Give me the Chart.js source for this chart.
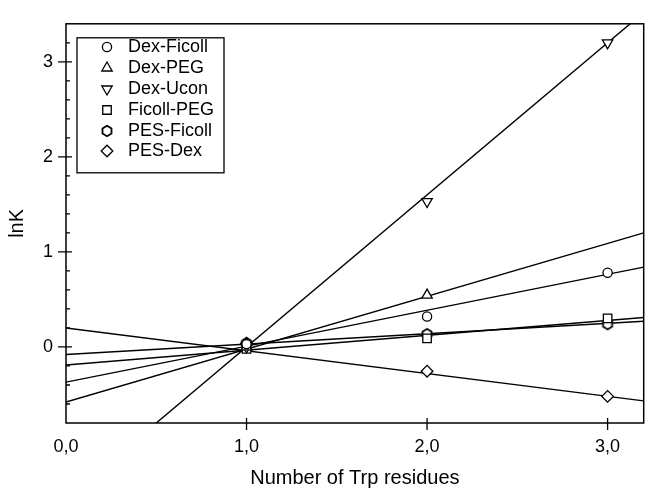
<!DOCTYPE html>
<html><head><meta charset="utf-8">
<script src="https://cdn.jsdelivr.net/npm/chart.js@4.4.1/dist/chart.umd.min.js"></script>
<style>html,body{margin:0;padding:0;background:#fff;}canvas{display:block;}</style>
</head><body>
<canvas id="c" width="651" height="490"></canvas>
<script>
// ---- data ----
const seriesNames = ['Dex-Ficoll', 'Dex-PEG', 'Dex-Ucon', 'Ficoll-PEG', 'PES-Ficoll', 'PES-Dex'];
const xValues = [1, 2, 3];
const dexFicoll = [0.03, 0.32, 0.78];
const dexPEG = [0.0, 0.545];
const dexUcon = [0.0, 1.53, 3.2];
const ficollPEG = [-0.02, 0.09, 0.30];
const pesFicoll = [0.04, 0.135, 0.24];
const pesDex = [0.04, -0.255, -0.52];
// straight fit lines: value at x = 0 and x = 3.2
const fitX = [0, 3.2];
const fitDexFicoll = [-0.37, 0.84];
const fitDexPEG = [-0.58, 1.2];
const fitDexUcon = [-1.6, 3.52];
const fitFicollPEG = [-0.19, 0.31];
const fitPesFicoll = [-0.08, 0.27];
const fitPesDex = [0.2, -0.567];
// axes
const xTicks = [0, 1, 2, 3];
const xTickLabels = ['0,0', '1,0', '2,0', '3,0'];
const yTicks = [0, 1, 2, 3];
const yTickLabels = ['0', '1', '2', '3'];
const yMinorTicks = [-0.6, -0.4, -0.2, 0.2, 0.4, 0.6, 0.8, 1.2, 1.4, 1.6, 1.8, 2.2, 2.4, 2.6, 2.8, 3.2];
const xTitle = 'Number of Trp residues';
const yTitle = 'lnK';

// ---- styling ----
const FONT = '"Liberation Sans", Arial, Helvetica, sans-serif';
Chart.defaults.font.family = FONT;
Chart.defaults.color = '#000';

function makeHex(r) {
  const s = 2 * Math.ceil(r) + 4;
  const c = document.createElement('canvas');
  c.width = s; c.height = s;
  const g = c.getContext('2d');
  const cx = s / 2, cy = s / 2;
  g.beginPath();
  for (let i = 0; i < 6; i++) {
    const a = -Math.PI / 2 + i * Math.PI / 3;
    const px = cx + r * Math.cos(a), py = cy + r * Math.sin(a);
    if (i) g.lineTo(px, py); else g.moveTo(px, py);
  }
  g.closePath();
  g.fillStyle = '#fff'; g.fill();
  g.lineWidth = 1.8; g.strokeStyle = '#000'; g.stroke();
  return c;
}
const hexImg = makeHex(5.2);

const markerStyles = [
  {pointStyle: 'circle', radius: 4.6, rotation: 0},
  {pointStyle: 'triangle', radius: 6, rotation: 0},
  {pointStyle: 'triangle', radius: 6, rotation: 180},
  {pointStyle: 'rect', radius: 6, rotation: 0},
  {pointStyle: hexImg, radius: 5, rotation: 0},
  {pointStyle: 'rectRot', radius: 5.8, rotation: 0}
];
const seriesValues = [dexFicoll, dexPEG, dexUcon, ficollPEG, pesFicoll, pesDex];
const fitValues = [fitDexFicoll, fitDexPEG, fitDexUcon, fitFicollPEG, fitPesFicoll, fitPesDex];

const datasets = [];
seriesValues.forEach((vals, i) => {
  const m = markerStyles[i];
  datasets.push({
    label: seriesNames[i],
    data: vals.map((v, k) => ({x: xValues[k], y: v})),
    showLine: false,
    pointStyle: m.pointStyle,
    pointRadius: m.radius,
    rotation: m.rotation,
    pointBackgroundColor: '#fff',
    pointBorderColor: '#000',
    pointBorderWidth: 1.3,
    order: 0
  });
});
fitValues.forEach((vals, i) => {
  datasets.push({
    label: seriesNames[i] + ' fit',
    data: vals.map((v, k) => ({x: fitX[k], y: v})),
    showLine: true,
    borderColor: '#000',
    borderWidth: 1.4,
    pointRadius: 0,
    fill: false,
    order: 1
  });
});

function drawMarker(ctx, m, x, y) {
  ctx.fillStyle = '#fff';
  ctx.strokeStyle = '#000';
  ctx.lineWidth = 1.3;
  if (Chart.helpers && Chart.helpers.drawPoint) {
    Chart.helpers.drawPoint(ctx, {pointStyle: m.pointStyle, radius: m.radius, rotation: m.rotation, borderWidth: 1.3}, x, y);
  }
}

const framePlugin = {
  id: 'frame',
  afterDatasetsDraw(chart) {
    const {ctx, chartArea: a, scales} = chart;
    const xs = scales.x, ys = scales.y;
    ctx.save();
    ctx.strokeStyle = '#000';
    ctx.lineWidth = 1.5;
    ctx.strokeRect(a.left, a.top, a.right - a.left, a.bottom - a.top);
    ctx.lineWidth = 1.3;
    ctx.beginPath();
    yTicks.forEach(v => {
      const p = ys.getPixelForValue(v);
      ctx.moveTo(a.left - 8, p); ctx.lineTo(a.left + 6, p);
    });
    yMinorTicks.forEach(v => {
      const p = ys.getPixelForValue(v);
      ctx.moveTo(a.left, p); ctx.lineTo(a.left + 4, p);
    });
    xTicks.forEach(v => {
      if (v === xs.min) return;
      const p = xs.getPixelForValue(v);
      ctx.moveTo(p, a.bottom - 5); ctx.lineTo(p, a.bottom + 7);
    });
    ctx.stroke();

    // legend box
    const bx = a.left + 11, by = a.top + 14, bw = 147, bh = 135;
    ctx.fillStyle = '#fff';
    ctx.fillRect(bx, by, bw, bh);
    ctx.lineWidth = 1.3;
    ctx.strokeStyle = '#000';
    ctx.strokeRect(bx, by, bw, bh);
    ctx.font = '18px ' + FONT;
    ctx.textBaseline = 'middle';
    ctx.textAlign = 'left';
    seriesNames.forEach((name, i) => {
      const yy = Math.round(by + 9.5 + i * 20.8);
      drawMarker(ctx, markerStyles[i], bx + 30, yy);
      ctx.fillStyle = '#000';
      ctx.fillText(name, bx + 51, yy + 0.5);
    });
    ctx.restore();
  }
};

new Chart(document.getElementById('c'), {
  type: 'scatter',
  data: {datasets},
  options: {
    responsive: false,
    animation: false,
    events: [],
    layout: {padding: {left: 0, right: 1, top: 13, bottom: 0}},
    plugins: {legend: {display: false}, tooltip: {enabled: false}},
    scales: {
      x: {
        type: 'linear', min: 0, max: 3.2,
        afterBuildTicks: s => { s.ticks = xTicks.map(v => ({value: v})); },
        afterFit: s => { s.height = 67; },
        grid: {display: false, drawTicks: false},
        border: {display: false},
        ticks: {
          autoSkip: false, maxRotation: 0, padding: 13, color: '#000',
          font: {size: 18},
          callback: (v, i) => xTickLabels[i]
        },
        title: {display: true, text: xTitle, color: '#000', font: {size: 20}, padding: {top: 0, bottom: 0}}
      },
      y: {
        type: 'linear', min: -0.8, max: 3.4,
        afterBuildTicks: s => { s.ticks = yTicks.map(v => ({value: v})); },
        afterFit: s => { s.width = 66; },
        grid: {display: false, drawTicks: false},
        border: {display: false},
        ticks: {
          autoSkip: false, padding: 13, color: '#000',
          font: {size: 18},
          callback: (v, i) => yTickLabels[i]
        },
        title: {display: true, text: yTitle, color: '#000', font: {size: 20}, padding: {top: 5, bottom: 0}}
      }
    }
  },
  plugins: [framePlugin]
});
</script>
</body></html>
